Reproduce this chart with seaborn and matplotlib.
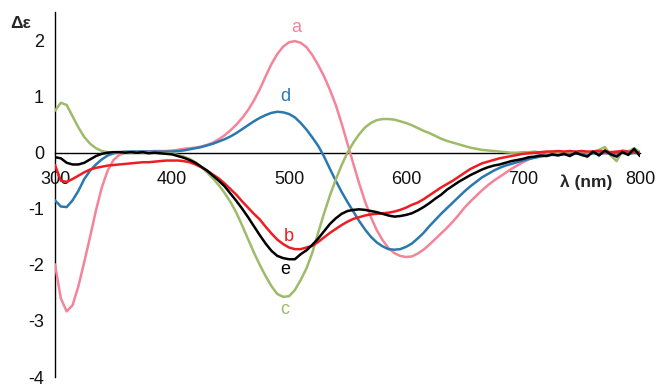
import numpy as np
import pandas as pd
import matplotlib
matplotlib.use("Agg")
import matplotlib.pyplot as plt
import seaborn as sns

# wavelength grid (nm)
wavelength = list(range(300, 801, 5))

# CD spectra, delta epsilon
curve_a = [
    -1.99, -2.60, -2.83, -2.72, -2.38, -1.95, -1.50, -1.03, -0.62, -0.32,
    -0.13, -0.04, 0.00, 0.01, 0.02, 0.02, 0.02, 0.03, 0.03, 0.03,
    0.04, 0.05, 0.07, 0.08, 0.09, 0.11, 0.14, 0.18, 0.24, 0.31,
    0.40, 0.50, 0.62, 0.76, 0.93, 1.13, 1.36, 1.58, 1.76, 1.89,
    1.97, 1.99, 1.96, 1.88, 1.74, 1.56, 1.36, 1.12, 0.85, 0.52,
    0.16, -0.20, -0.55, -0.87, -1.15, -1.38, -1.56, -1.70, -1.79, -1.84,
    -1.86, -1.85, -1.80, -1.73, -1.64, -1.54, -1.44, -1.34, -1.23, -1.11,
    -0.98, -0.87, -0.77, -0.67, -0.58, -0.50, -0.43, -0.36, -0.29, -0.23,
    -0.17, -0.12, -0.08, -0.05, -0.03, -0.02, -0.02, -0.01, -0.02, -0.01,
    -0.01, -0.02, 0.00, -0.01, -0.01, 0.00, -0.02, 0.00, -0.01, 0.00,
    -0.01,
]

curve_b = [
    -0.22, -0.50, -0.52, -0.47, -0.41, -0.35, -0.30, -0.27, -0.25, -0.23,
    -0.22, -0.21, -0.20, -0.19, -0.18, -0.17, -0.17, -0.16, -0.15, -0.14,
    -0.14, -0.14, -0.15, -0.17, -0.21, -0.26, -0.32, -0.39, -0.46, -0.55,
    -0.65, -0.75, -0.87, -0.98, -1.09, -1.19, -1.32, -1.44, -1.55, -1.63,
    -1.69, -1.72, -1.72, -1.69, -1.66, -1.59, -1.51, -1.43, -1.36, -1.29,
    -1.23, -1.18, -1.15, -1.12, -1.10, -1.09, -1.08, -1.07, -1.05, -1.02,
    -0.98, -0.93, -0.89, -0.83, -0.76, -0.69, -0.62, -0.56, -0.50, -0.43,
    -0.36, -0.29, -0.24, -0.19, -0.16, -0.13, -0.10, -0.08, -0.06, -0.04,
    -0.02, -0.01, 0.00, 0.01, 0.02, 0.02, 0.03, 0.02, 0.03, 0.02,
    0.03, 0.02, 0.02, 0.03, 0.02, 0.01, 0.02, 0.03, 0.02, 0.01,
    0.00,
]

curve_c = [
    0.75, 0.89, 0.85, 0.65, 0.45, 0.28, 0.16, 0.08, 0.03, 0.01,
    0.00, 0.00, 0.00, 0.00, 0.01, 0.00, 0.00, 0.00, -0.01, -0.01,
    -0.02, -0.04, -0.07, -0.11, -0.17, -0.25, -0.35, -0.46, -0.58, -0.72,
    -0.88, -1.07, -1.30, -1.54, -1.78, -2.00, -2.20, -2.38, -2.52, -2.57,
    -2.56, -2.45, -2.27, -2.06, -1.78, -1.42, -1.08, -0.76, -0.48, -0.22,
    0.00, 0.18, 0.33, 0.45, 0.53, 0.58, 0.60, 0.60, 0.59, 0.56,
    0.53, 0.49, 0.44, 0.39, 0.35, 0.30, 0.25, 0.21, 0.18, 0.15,
    0.12, 0.09, 0.07, 0.05, 0.04, 0.03, 0.02, 0.01, 0.00, 0.00,
    0.01, 0.01, 0.02, 0.00, 0.01, 0.02, 0.01, 0.00, 0.02, 0.01,
    0.03, 0.00, 0.02, 0.05, 0.10, -0.05, -0.15, 0.04, 0.02, 0.08,
    0.01,
]

curve_d = [
    -0.85, -0.96, -0.97, -0.85, -0.68, -0.47, -0.32, -0.21, -0.12, -0.05,
    -0.01, 0.01, 0.02, 0.02, 0.02, 0.02, 0.02, 0.02, 0.02, 0.02,
    0.02, 0.03, 0.04, 0.06, 0.08, 0.10, 0.13, 0.16, 0.20, 0.24,
    0.29, 0.35, 0.42, 0.49, 0.56, 0.62, 0.67, 0.71, 0.73, 0.72,
    0.69, 0.63, 0.53, 0.41, 0.27, 0.12, -0.07, -0.29, -0.50, -0.70,
    -0.88, -1.05, -1.22, -1.37, -1.50, -1.60, -1.67, -1.72, -1.73, -1.72,
    -1.68, -1.62, -1.53, -1.43, -1.31, -1.20, -1.09, -0.99, -0.89, -0.79,
    -0.69, -0.60, -0.52, -0.44, -0.38, -0.32, -0.27, -0.23, -0.20, -0.17,
    -0.14, -0.11, -0.09, -0.07, -0.05, -0.04, -0.04, -0.03, -0.03, -0.02,
    -0.02, -0.03, -0.01, -0.02, 0.00, -0.02, -0.01, 0.00, -0.02, 0.00,
    -0.01,
]

curve_e = [
    -0.08, -0.10, -0.18, -0.21, -0.21, -0.18, -0.12, -0.06, -0.02, 0.00,
    0.01, 0.01, 0.00, 0.01, 0.00, 0.01, -0.01, 0.00, -0.01, -0.02,
    -0.03, -0.06, -0.09, -0.13, -0.18, -0.25, -0.32, -0.41, -0.50, -0.60,
    -0.73, -0.86, -1.00, -1.15, -1.31, -1.47, -1.62, -1.75, -1.84, -1.88,
    -1.90, -1.90, -1.81, -1.74, -1.64, -1.53, -1.40, -1.27, -1.17, -1.09,
    -1.04, -1.02, -1.01, -1.02, -1.04, -1.06, -1.09, -1.12, -1.14, -1.13,
    -1.11, -1.08, -1.03, -0.97, -0.90, -0.82, -0.75, -0.66, -0.59, -0.52,
    -0.46, -0.40, -0.35, -0.30, -0.26, -0.23, -0.21, -0.18, -0.15, -0.13,
    -0.11, -0.08, -0.07, -0.05, -0.06, -0.03, -0.05, -0.02, -0.06, 0.00,
    -0.04, -0.07, 0.02, -0.05, 0.04, -0.03, -0.07, 0.01, -0.04, 0.07,
    -0.06,
]

series_names = ["a", "b", "c", "d", "e"]
series_colors = {"a": "#F4849A", "b": "#EE1D23", "c": "#9DBB68",
                 "d": "#2A78B0", "e": "#000000"}
label_pos = {"a": (506, 2.23), "d": (497, 1.01), "b": (500, -1.49),
             "e": (497, -2.09), "c": (496, -2.80)}

frames = []
for name, vals in zip(series_names, [curve_a, curve_b, curve_c, curve_d, curve_e]):
    frames.append(pd.DataFrame({"wavelength": wavelength, "de": vals, "sample": name}))
df = pd.concat(frames, ignore_index=True)

sns.set_style("white")
plt.rcParams["font.family"] = ["Liberation Sans", "DejaVu Sans"]

fig = plt.figure(figsize=(6.57, 3.87), dpi=100)
ax = fig.add_axes([55 / 657, 10 / 387, 585 / 657, 364.5 / 387])

# black trace drawn last so it sits on top
draw_order = ["a", "d", "c", "b", "e"]
for name in draw_order:
    sns.lineplot(data=df[df["sample"] == name], x="wavelength", y="de",
                 color=series_colors[name], linewidth=1.8, ax=ax,
                 legend=False, zorder=3)

ax.set_xlim(300, 800)
ax.set_ylim(-4, 2.5)
ax.set_xticks([300, 400, 500, 600, 700, 800])
ax.set_yticks([-4, -3, -2, -1, 0, 1, 2])
ax.set_xticklabels(["300", "400", "500", "600", "700", "800"])
ax.set_yticklabels(["-4", "-3", "-2", "-1", "0", "1", "2"])

for s in ["top", "right"]:
    ax.spines[s].set_visible(False)
ax.spines["bottom"].set_position(("data", 0))
ax.spines["left"].set_position(("data", 300))
for s in ["bottom", "left"]:
    ax.spines[s].set_color("black")
    ax.spines[s].set_linewidth(1.0)
    ax.spines[s].set_zorder(2)

ax.tick_params(axis="x", direction="out", length=4, width=1, color="#808080",
               pad=9, labelsize=13, labelcolor="#111111")
ax.tick_params(axis="y", direction="out", length=4, width=1, color="#808080",
               pad=4, labelsize=13, labelcolor="#111111")
ax.set_xlabel("")
ax.set_ylabel("")
ax.grid(False)

for name in series_names:
    x, y = label_pos[name]
    ax.text(x, y, name, color=series_colors[name], fontsize=13,
            ha="center", va="center")

fig.text(21 / 657, 1 - 24 / 387, "Δε", fontsize=12.5, fontweight="bold",
         ha="center", va="center")
fig.text(586 / 657, 1 - 182 / 387, "λ (nm)", fontsize=12.5, fontweight="bold",
         ha="center", va="center")

fig.savefig("out.png", dpi=100, facecolor="white")
